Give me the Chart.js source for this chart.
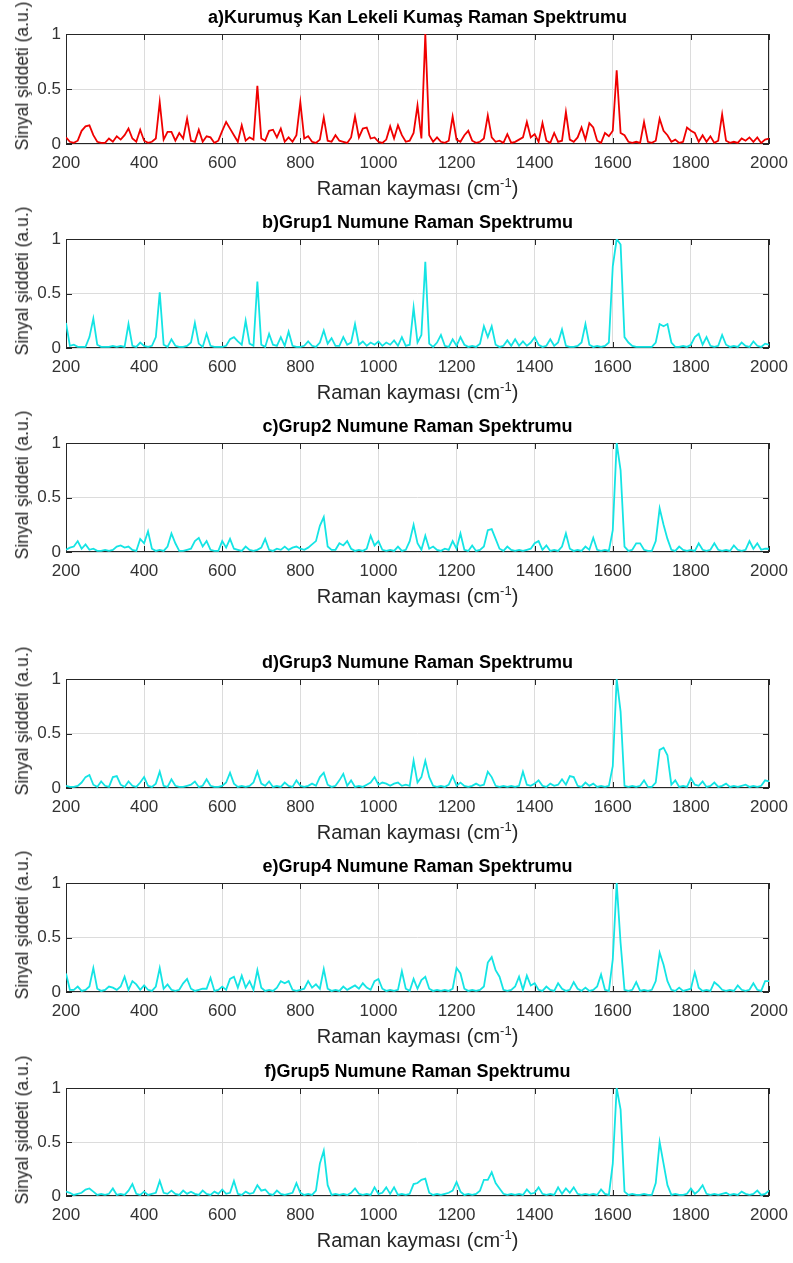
<!DOCTYPE html>
<html>
<head>
<meta charset="utf-8">
<script src="https://cdn.jsdelivr.net/npm/chart.js@4.4.1/dist/chart.umd.min.js"></script>
<style>
  body { margin: 0; background: #fff; width: 793px; height: 1263px; position: relative; overflow: hidden;
         font-family: "Liberation Sans", Arial, sans-serif; }
  .cv { position: absolute; left: 0; width: 793px; }
  .ttl { position: absolute; left: 66px; width: 703px; text-align: center; font-weight: bold;
         font-size: 18px; line-height: 20px; color: #000; white-space: nowrap; }
  .xl { position: absolute; left: 66px; width: 703px; text-align: center; font-size: 20px;
        line-height: 20px; color: #262626; white-space: nowrap; }
  .xl sup { font-size: 13px; }
  .yl { position: absolute; left: 22px; font-size: 17.5px; line-height: 20px; color: #262626;
        white-space: nowrap; transform: translate(-50%, -50%) rotate(-90deg); }
</style>
</head>
<body>
<script>
// Raman shift grid (cm-1), shared by all spectra
const ramanShift = [
  200,210,220,230,240,250,260,270,280,290,
  300,310,320,330,340,350,360,370,380,390,
  400,410,420,430,440,450,460,470,480,490,
  500,510,520,530,540,550,560,570,580,590,
  600,610,620,630,640,650,660,670,680,690,
  700,710,720,730,740,750,760,770,780,790,
  800,810,820,830,840,850,860,870,880,890,
  900,910,920,930,940,950,960,970,980,990,
  1000,1010,1020,1030,1040,1050,1060,1070,1080,1090,
  1100,1110,1120,1130,1140,1150,1160,1170,1180,1190,
  1200,1210,1220,1230,1240,1250,1260,1270,1280,1290,
  1300,1310,1320,1330,1340,1350,1360,1370,1380,1390,
  1400,1410,1420,1430,1440,1450,1460,1470,1480,1490,
  1500,1510,1520,1530,1540,1550,1560,1570,1580,1590,
  1600,1610,1620,1630,1640,1650,1660,1670,1680,1690,
  1700,1710,1720,1730,1740,1750,1760,1770,1780,1790,
  1800,1810,1820,1830,1840,1850,1860,1870,1880,1890,
  1900,1910,1920,1930,1940,1950,1960,1970,1980,1990,
  2000
];

// a) dried blood stained fabric
const kumasSignal = [
  0.06,0.02,0.01,0.03,0.12,0.16,0.17,0.08,0.02,0.01,
  0.01,0.05,0.02,0.07,0.04,0.08,0.14,0.05,0.02,0.13,
  0.03,0.01,0.02,0.05,0.38,0.04,0.11,0.11,0.03,0.10,
  0.05,0.23,0.03,0.02,0.13,0.02,0.07,0.06,0.01,0.03,
  0.12,0.20,0.14,0.08,0.02,0.17,0.03,0.06,0.04,0.53,
  0.05,0.03,0.12,0.13,0.06,0.14,0.02,0.06,0.02,0.08,
  0.38,0.05,0.07,0.02,0.01,0.04,0.24,0.03,0.02,0.08,
  0.03,0.02,0.01,0.06,0.25,0.06,0.14,0.15,0.05,0.06,
  0.02,0.01,0.04,0.16,0.05,0.17,0.08,0.02,0.03,0.10,
  0.35,0.05,1.00,0.08,0.02,0.06,0.02,0.01,0.03,0.25,
  0.04,0.02,0.08,0.12,0.03,0.01,0.02,0.05,0.26,0.06,
  0.02,0.03,0.01,0.09,0.01,0.02,0.04,0.06,0.20,0.06,
  0.09,0.02,0.19,0.03,0.01,0.10,0.02,0.03,0.29,0.04,
  0.02,0.06,0.15,0.04,0.19,0.15,0.03,0.01,0.10,0.07,
  0.12,0.67,0.10,0.08,0.02,0.01,0.02,0.01,0.20,0.02,
  0.01,0.03,0.23,0.12,0.08,0.02,0.04,0.01,0.02,0.15,
  0.12,0.10,0.02,0.08,0.02,0.07,0.01,0.03,0.27,0.03,
  0.01,0.02,0.01,0.05,0.03,0.06,0.02,0.06,0.01,0.04,
  0.05
];

const grup1Signal = [
  0.23,0.02,0.03,0.01,0.01,0.01,0.10,0.27,0.03,0.01,
  0.01,0.01,0.02,0.01,0.02,0.01,0.22,0.02,0.01,0.05,
  0.02,0.01,0.02,0.10,0.51,0.03,0.01,0.08,0.02,0.01,
  0.01,0.02,0.05,0.23,0.04,0.01,0.13,0.02,0.01,0.01,
  0.01,0.02,0.08,0.10,0.06,0.03,0.25,0.04,0.02,0.61,
  0.03,0.01,0.13,0.03,0.02,0.10,0.02,0.15,0.02,0.01,
  0.01,0.02,0.06,0.02,0.01,0.05,0.16,0.04,0.09,0.02,
  0.02,0.10,0.03,0.05,0.22,0.03,0.06,0.02,0.05,0.03,
  0.06,0.02,0.05,0.03,0.07,0.02,0.10,0.02,0.03,0.37,
  0.05,0.12,0.79,0.04,0.01,0.05,0.12,0.02,0.01,0.08,
  0.02,0.10,0.03,0.01,0.02,0.01,0.04,0.20,0.10,0.20,
  0.03,0.01,0.02,0.07,0.02,0.08,0.02,0.06,0.02,0.05,
  0.10,0.03,0.01,0.02,0.08,0.02,0.05,0.17,0.02,0.01,
  0.01,0.02,0.05,0.22,0.03,0.01,0.02,0.01,0.02,0.05,
  0.75,1.00,0.95,0.10,0.05,0.02,0.01,0.01,0.01,0.01,
  0.01,0.05,0.22,0.20,0.22,0.05,0.01,0.01,0.02,0.01,
  0.03,0.10,0.13,0.03,0.10,0.02,0.01,0.02,0.12,0.03,
  0.01,0.02,0.01,0.05,0.02,0.01,0.06,0.02,0.01,0.04,
  0.03
];

const grup2Signal = [
  0.02,0.04,0.05,0.10,0.03,0.07,0.02,0.03,0.01,0.01,
  0.02,0.01,0.02,0.05,0.06,0.04,0.05,0.02,0.01,0.12,
  0.08,0.19,0.03,0.01,0.02,0.01,0.05,0.17,0.08,0.01,
  0.01,0.02,0.03,0.10,0.13,0.05,0.10,0.02,0.01,0.01,
  0.10,0.04,0.12,0.03,0.02,0.01,0.05,0.02,0.01,0.02,
  0.04,0.12,0.02,0.01,0.03,0.02,0.05,0.02,0.04,0.05,
  0.03,0.02,0.04,0.07,0.10,0.24,0.32,0.05,0.02,0.02,
  0.08,0.06,0.10,0.03,0.01,0.02,0.01,0.03,0.15,0.06,
  0.10,0.02,0.01,0.02,0.01,0.05,0.01,0.02,0.10,0.25,
  0.08,0.02,0.15,0.03,0.05,0.02,0.01,0.03,0.02,0.10,
  0.03,0.17,0.02,0.01,0.06,0.01,0.02,0.05,0.20,0.21,
  0.12,0.03,0.01,0.05,0.02,0.01,0.02,0.01,0.02,0.03,
  0.08,0.10,0.02,0.06,0.01,0.02,0.01,0.05,0.17,0.03,
  0.01,0.02,0.01,0.05,0.02,0.13,0.02,0.01,0.02,0.01,
  0.20,1.00,0.75,0.05,0.01,0.02,0.08,0.08,0.02,0.01,
  0.01,0.10,0.40,0.25,0.12,0.02,0.01,0.05,0.02,0.01,
  0.02,0.01,0.08,0.02,0.01,0.02,0.08,0.02,0.01,0.02,
  0.01,0.06,0.02,0.01,0.02,0.10,0.03,0.08,0.02,0.03,
  0.03
];

const grup3Signal = [
  0.02,0.01,0.01,0.02,0.05,0.10,0.12,0.03,0.01,0.06,
  0.02,0.01,0.10,0.11,0.03,0.01,0.06,0.02,0.01,0.05,
  0.10,0.02,0.01,0.04,0.15,0.02,0.01,0.08,0.02,0.01,
  0.01,0.02,0.03,0.06,0.01,0.02,0.08,0.02,0.01,0.01,
  0.02,0.05,0.14,0.04,0.01,0.02,0.01,0.02,0.05,0.15,
  0.04,0.02,0.06,0.01,0.02,0.01,0.05,0.02,0.01,0.07,
  0.02,0.01,0.02,0.04,0.02,0.10,0.14,0.03,0.01,0.02,
  0.07,0.13,0.02,0.07,0.01,0.02,0.01,0.03,0.05,0.10,
  0.03,0.05,0.04,0.02,0.04,0.05,0.02,0.03,0.02,0.25,
  0.05,0.10,0.25,0.10,0.02,0.01,0.02,0.01,0.03,0.11,
  0.02,0.05,0.02,0.01,0.02,0.04,0.02,0.03,0.15,0.10,
  0.02,0.01,0.02,0.01,0.02,0.01,0.02,0.15,0.03,0.02,
  0.04,0.07,0.02,0.01,0.04,0.02,0.03,0.08,0.03,0.11,
  0.10,0.02,0.01,0.05,0.02,0.04,0.01,0.02,0.01,0.02,
  0.20,1.00,0.70,0.02,0.01,0.02,0.01,0.02,0.07,0.01,
  0.01,0.05,0.35,0.37,0.30,0.03,0.07,0.01,0.02,0.01,
  0.09,0.03,0.02,0.06,0.01,0.02,0.05,0.01,0.02,0.04,
  0.01,0.02,0.01,0.02,0.03,0.01,0.02,0.01,0.02,0.07,
  0.06
];

const grup4Signal = [
  0.17,0.02,0.02,0.05,0.01,0.02,0.05,0.22,0.03,0.01,
  0.02,0.05,0.04,0.02,0.05,0.14,0.02,0.10,0.07,0.02,
  0.06,0.02,0.01,0.05,0.22,0.03,0.07,0.02,0.01,0.02,
  0.08,0.12,0.03,0.01,0.02,0.03,0.03,0.13,0.01,0.02,
  0.05,0.02,0.12,0.14,0.04,0.15,0.04,0.10,0.02,0.20,
  0.04,0.01,0.02,0.01,0.04,0.10,0.08,0.10,0.02,0.01,
  0.02,0.03,0.10,0.04,0.07,0.03,0.21,0.03,0.01,0.02,
  0.01,0.05,0.02,0.04,0.06,0.03,0.08,0.04,0.02,0.10,
  0.12,0.03,0.01,0.02,0.01,0.02,0.19,0.03,0.01,0.12,
  0.03,0.11,0.14,0.03,0.01,0.02,0.01,0.02,0.01,0.03,
  0.22,0.17,0.03,0.01,0.02,0.01,0.02,0.05,0.27,0.32,
  0.20,0.14,0.02,0.01,0.02,0.05,0.14,0.02,0.15,0.06,
  0.08,0.02,0.01,0.05,0.02,0.01,0.08,0.03,0.01,0.02,
  0.09,0.03,0.01,0.04,0.01,0.02,0.05,0.16,0.02,0.01,
  0.30,1.00,0.45,0.02,0.01,0.02,0.09,0.01,0.02,0.01,
  0.02,0.10,0.36,0.25,0.10,0.02,0.01,0.04,0.01,0.02,
  0.03,0.18,0.04,0.01,0.02,0.01,0.09,0.06,0.02,0.01,
  0.02,0.01,0.06,0.02,0.01,0.02,0.08,0.02,0.01,0.10,
  0.10
];

const grup5Signal = [
  0.04,0.03,0.01,0.02,0.03,0.06,0.07,0.04,0.01,0.02,
  0.01,0.02,0.07,0.01,0.02,0.01,0.05,0.11,0.02,0.01,
  0.04,0.01,0.02,0.03,0.14,0.03,0.02,0.05,0.02,0.01,
  0.05,0.02,0.04,0.02,0.01,0.05,0.02,0.01,0.04,0.02,
  0.06,0.02,0.03,0.14,0.02,0.01,0.04,0.02,0.03,0.10,
  0.05,0.06,0.02,0.01,0.05,0.02,0.01,0.02,0.03,0.12,
  0.03,0.01,0.02,0.01,0.05,0.30,0.42,0.10,0.01,0.02,
  0.01,0.02,0.01,0.03,0.07,0.02,0.01,0.02,0.01,0.08,
  0.02,0.03,0.08,0.02,0.08,0.01,0.02,0.01,0.02,0.11,
  0.12,0.15,0.16,0.03,0.01,0.02,0.01,0.02,0.03,0.05,
  0.13,0.04,0.01,0.02,0.01,0.02,0.05,0.15,0.15,0.22,
  0.12,0.07,0.02,0.01,0.02,0.01,0.02,0.01,0.06,0.02,
  0.03,0.08,0.02,0.01,0.02,0.01,0.08,0.02,0.07,0.03,
  0.08,0.02,0.01,0.02,0.01,0.02,0.01,0.06,0.02,0.01,
  0.30,1.00,0.80,0.04,0.01,0.02,0.01,0.01,0.02,0.01,
  0.01,0.12,0.50,0.30,0.10,0.01,0.02,0.01,0.01,0.02,
  0.07,0.02,0.05,0.10,0.02,0.01,0.02,0.01,0.02,0.03,
  0.01,0.02,0.01,0.04,0.02,0.01,0.02,0.05,0.01,0.02,
  0.05
];

const panelTitles = [
  'a)Kurumuş Kan Lekeli Kumaş Raman Spektrumu',
  'b)Grup1 Numune Raman Spektrumu',
  'c)Grup2 Numune Raman Spektrumu',
  'd)Grup3 Numune Raman Spektrumu',
  'e)Grup4 Numune Raman Spektrumu',
  'f)Grup5 Numune Raman Spektrumu'
];
const panelSignals = [kumasSignal, grup1Signal, grup2Signal, grup3Signal, grup4Signal, grup5Signal];
const yTickLabels = { 0: '0', 0.5: '0.5', 1: '1' };

// layout (plot area top/bottom in page pixels)
const panelBoxes = [[34, 144], [239, 348], [443, 552], [679, 788], [883, 992], [1088, 1196]];
const lineColors = ['#f00000', '#14e4e4', '#14e4e4', '#14e4e4', '#14e4e4', '#14e4e4'];
const PLOT_L = 66, PLOT_R = 769, PAD_TOP = 12, BELOW = 34;
const TICK_COLOR = '#333';

// MATLAB-like box with inward ticks
const matlabBox = {
  id: 'matlabBox',
  beforeDatasetsDraw(chart){
    const { ctx, chartArea: a, scales: { x, y } } = chart;
    ctx.save();
    ctx.strokeStyle = '#262626';
    ctx.lineWidth = 1;
    ctx.beginPath();
    for (const t of x.ticks){
      const px = Math.round(x.getPixelForValue(t.value)) + 0.5;
      ctx.moveTo(px, a.bottom); ctx.lineTo(px, a.bottom - 6);
      ctx.moveTo(px, a.top); ctx.lineTo(px, a.top + 6);
    }
    for (const t of y.ticks){
      const py = Math.round(y.getPixelForValue(t.value)) + 0.5;
      ctx.moveTo(a.left, py); ctx.lineTo(a.left + 6, py);
      ctx.moveTo(a.right, py); ctx.lineTo(a.right - 6, py);
    }
    ctx.stroke();
    ctx.strokeRect(a.left + 0.5, a.top + 0.5, a.width - 1, a.height - 1);
    ctx.restore();
  }
};

function addText(cls, html, top){
  const d = document.createElement('div');
  d.className = cls;
  d.innerHTML = html;
  d.style.top = top + 'px';
  document.body.appendChild(d);
}

panelTitles.forEach((title, i) => {
  const [top, bottom] = panelBoxes[i];
  const h = bottom - top;
  const cv = document.createElement('canvas');
  cv.className = 'cv';
  cv.width = 793;
  cv.height = h + PAD_TOP + BELOW;
  cv.style.top = (top - PAD_TOP) + 'px';
  cv.style.height = cv.height + 'px';
  document.body.appendChild(cv);

  addText('ttl', title, top - 27);
  addText('xl', 'Raman kayması (cm<sup>-1</sup>)', bottom + 29);
  addText('yl', 'Sinyal şiddeti (a.u.)', top + 42);

  new Chart(cv, {
    type: 'line',
    data: {
      datasets: [{
        data: ramanShift.map((s, k) => ({ x: s, y: panelSignals[i][k] })),
        borderColor: lineColors[i],
        borderWidth: 1.8,
        pointRadius: 0,
        tension: 0,
        fill: false
      }]
    },
    options: {
      responsive: false,
      animation: false,
      events: [],
      layout: { padding: { top: PAD_TOP, left: 0, right: 793 - PLOT_R, bottom: 0 } },
      plugins: { legend: { display: false }, tooltip: { enabled: false } },
      scales: {
        x: {
          type: 'linear', min: 200, max: 2000,
          afterFit: s => { s.height = BELOW; s.paddingLeft = 0; s.paddingRight = 0; },
          grid: { color: '#dcdcdc', drawTicks: false },
          border: { display: false },
          ticks: { stepSize: 200, padding: 9, color: TICK_COLOR, maxRotation: 0,
                   font: { family: 'Liberation Sans', size: 17 },
                   callback: v => String(v) }
        },
        y: {
          min: 0, max: 1,
          afterFit: s => { s.width = PLOT_L; s.paddingTop = 0; s.paddingBottom = 0; },
          grid: { color: '#dcdcdc', drawTicks: false },
          border: { display: false },
          ticks: { stepSize: 0.5, padding: 5, color: TICK_COLOR,
                   font: { family: 'Liberation Sans', size: 17 },
                   callback: v => yTickLabels[v] }
        }
      }
    },
    plugins: [matlabBox]
  });
});
</script>
</body>
</html>
